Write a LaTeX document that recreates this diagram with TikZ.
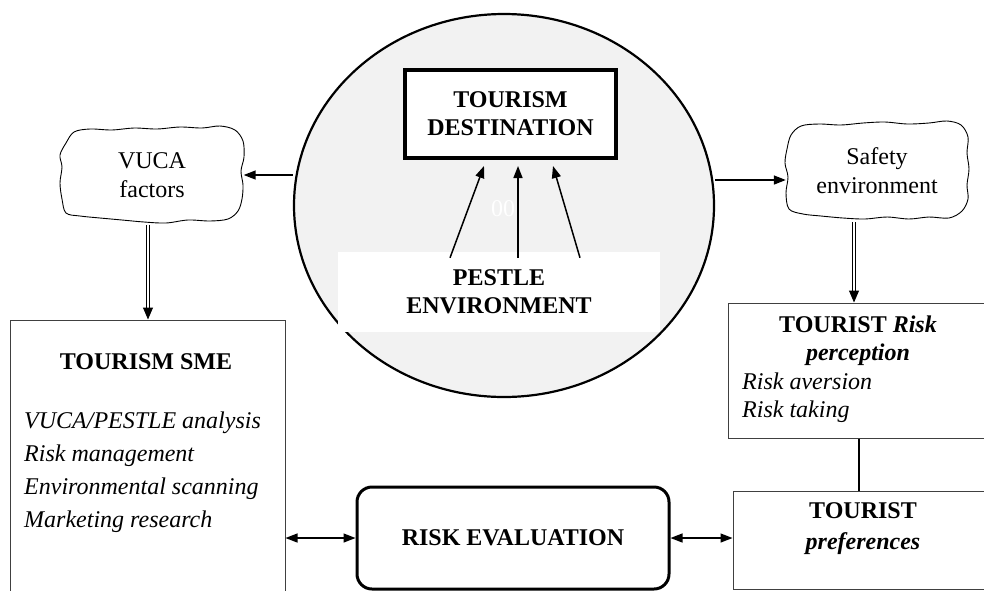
\documentclass[tikz,border=0pt]{standalone}
\usepackage{fontspec}
\setmainfont{Liberation Serif}
\usetikzlibrary{shapes.geometric,arrows.meta,calc}
\definecolor{circfill}{HTML}{F2F2F2}
\definecolor{boxline}{HTML}{404040}
\begin{document}
\begin{tikzpicture}[x=1pt,y=-1pt,
  font=\fontsize{24}{29}\selectfont,
  tip/.style={-{Triangle[length=12pt,width=9pt]}, line width=1.5pt},
  twotip/.style={{Triangle[length=12pt,width=9pt]}-{Triangle[length=12pt,width=9pt]}, line width=1.3pt},
  dbltip/.style={-{Triangle[length=12pt,width=10pt]}, draw=black, line width=1pt, double=white, double distance=2pt},
  cloudbox/.style={align=center, inner sep=0pt},
  cloudline/.style={draw, line width=0.9pt, fill=white},
  thinbox/.style={draw=boxline, line width=1pt, inner sep=0pt},
  lbl/.style={inner sep=0pt, align=center}
]
\useasboundingbox (0,0) rectangle (984,590);
\fill[white] (0,0) rectangle (984,590);
\clip (0,0) rectangle (984,590);

% central ellipse
\node[ellipse, draw, line width=2.2pt, fill=circfill, minimum width=420pt, minimum height=383pt, inner sep=0pt] (circ) at (504,205.5) {};
\node[lbl, text=white] (zz) at (503,209) {00};
\node[draw, line width=4pt, fill=white, minimum width=211pt, minimum height=88pt, inner sep=0pt, align=center, font=\fontsize{24}{30}\selectfont\bfseries] (dest) at (510.5,114) {TOURISM\\[-2pt]DESTINATION};
\node[fill=white, minimum width=322pt, minimum height=80pt, inner sep=0pt, align=center, font=\fontsize{24}{28}\selectfont\bfseries] (pbg) at (499,292) {PESTLE\\ENVIRONMENT};

\draw[tip] ($(pbg.north)+(-49,6)$) -- ($(dest.south)+(-26.5,6)$);
\draw[tip] ($(pbg.north)+(19,6)$) -- ($(dest.south)+(7.5,6)$);
\draw[tip] ($(pbg.north)+(81,6)$) -- ($(dest.south)+(42.5,6)$);

% cloud outlines
\begin{scope}[shift={(152,175)}]
\draw[cloudline] plot[smooth cycle, tension=0.55] coordinates {
 (-86,-32) (-78,-43) (-62,-46) (-40,-45) (-18,-47) (5,-46) (28,-48) (50,-47) (68,-49) (83,-45)
 (91,-34) (92,-18) (89,-4) (91,10) (90,24) (86,36) (76,44) (58,46) (36,45) (14,48) (-8,47)
 (-30,45) (-52,43) (-72,41) (-86,38) (-90,24) (-92,8) (-90,-8) (-92,-20)};
\end{scope}
\begin{scope}[shift={(877,171)}]
\draw[cloudline] plot[smooth cycle, tension=0.55] coordinates {
 (-86,-36) (-76,-45) (-58,-47) (-36,-46) (-14,-48) (8,-49) (30,-47) (52,-48) (70,-50) (84,-46)
 (91,-34) (90,-18) (92,-2) (90,14) (91,28) (85,40) (72,47) (52,46) (32,48) (10,46) (-12,48)
 (-34,47) (-56,45) (-74,43) (-88,38) (-91,22) (-89,6) (-92,-8) (-90,-22)};
\end{scope}

% cloud texts (named nodes)
\node[cloudbox, minimum width=183pt, minimum height=93pt] (vuca) at (152,175) {VUCA\\factors};
\node[cloudbox, minimum width=182pt, minimum height=96pt] (safe) at (877,171) {Safety\\environment};

\draw[tip] (circ.west |- vuca.east) -- (vuca.east);
\draw[tip] ($(circ.east |- safe.west)+(0,9)$) -- ($(safe.west)+(0,9)$);

% SME box
\node[thinbox, minimum width=275pt, minimum height=300pt] (sme) at (147.5,470) {};
\node[lbl, font=\fontsize{24}{29}\selectfont\bfseries] (smehead) at (146,362) {TOURISM SME};
\node[lbl, align=left, anchor=west, font=\fontsize{24}{33}\selectfont\itshape] (smelist) at (24,472) {VUCA/PESTLE analysis\\Risk management\\Environmental scanning\\Marketing research};

\draw[dbltip] ($(sme.north |- vuca.south)+(0.5,3)$) -- ($(sme.north)+(0.5,0)$);

% tourist risk perception
\node[thinbox, minimum width=262pt, minimum height=135pt] (rp) at (859,370.5) {};
\node[lbl, font=\fontsize{24}{28}\selectfont\bfseries] (rphead) at (858,341) {TOURIST \textit{Risk}\\\textit{perception}};
\node[lbl, align=left, anchor=west, font=\fontsize{24}{28}\selectfont\itshape] (rplist) at (742,398) {Risk aversion\\Risk taking};

\draw[dbltip] ($(rp.north |- safe.south)+(-5,3)$) -- ($(rp.north)+(-5,0)$);

% tourist preferences
\node[thinbox, minimum width=260pt, minimum height=98pt] (pref) at (863,540) {};
\node[lbl, font=\fontsize{24}{31}\selectfont\bfseries] (preftxt) at (863,529) {TOURIST\\\textit{preferences}};

\draw[line width=1.5pt] (rp.south) -- (rp.south |- pref.north);

% risk evaluation
\node[draw, line width=3pt, rounded corners=15pt, minimum width=312pt, minimum height=102pt, inner sep=0pt, font=\fontsize{24}{29}\selectfont\bfseries] (re) at (513,538) {RISK EVALUATION};

\draw[twotip] (sme.east |- re.west) -- (re.west);
\draw[twotip] (re.east) -- (re.east -| pref.west);
\end{tikzpicture}
\end{document}
